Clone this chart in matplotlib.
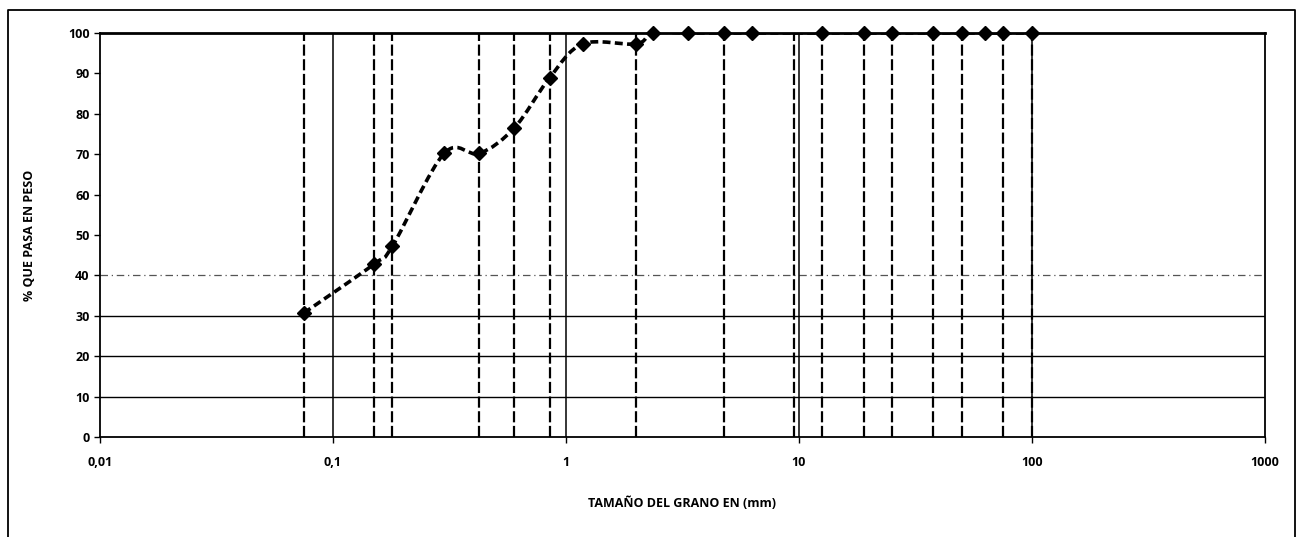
import numpy as np
import matplotlib
matplotlib.use("Agg")
import matplotlib.pyplot as plt
from matplotlib.path import Path
from matplotlib.patches import PathPatch
from matplotlib.ticker import FixedLocator, FixedFormatter, NullLocator

# Datos de la curva granulometrica (tamano en mm, % que pasa)
tamanos = [0.075, 0.15, 0.18, 0.3, 0.425, 0.6, 0.85, 1.18, 2.0, 2.36, 3.35,
           4.75, 6.3, 12.5, 19.0, 25.0, 37.5, 50.0, 63.0, 75.0, 100.0]
pasa = [30.7, 42.8, 47.3, 70.2, 70.2, 76.5, 88.9, 97.3, 97.3, 100.0, 100.0,
        100.0, 100.0, 100.0, 100.0, 100.0, 100.0, 100.0, 100.0, 100.0, 100.0]

# Tamices marcados con linea vertical discontinua
tamices = [0.075, 0.15, 0.18, 0.425, 0.6, 0.85, 2.0, 4.75, 9.5, 12.5,
           19.0, 25.0, 37.5, 50.0, 75.0, 100.0]

x_ticks = [0.01, 0.1, 1, 10, 100, 1000]
x_labels = ["0,01", "0,1", "1", "10", "100", "1000"]
y_ticks = list(range(0, 101, 10))

plt.rcParams['font.family'] = ['Open Sans', 'DejaVu Sans']

fig = plt.figure(figsize=(12.99, 5.37), dpi=100)
ax = fig.add_axes([100 / 1299, 1 - 437 / 537, 1165 / 1299, 404 / 537])
ax.set_xscale('log')
ax.set_xlim(0.01, 1000)
ax.set_ylim(0, 100)

# Lineas horizontales
for yv in [10, 20, 30]:
    ax.axhline(yv, color='black', lw=1.0, zorder=1)
ax.axhline(40, color='#555555', lw=0.9, ls=(0, (6, 3, 1, 3)), zorder=1)

# Lineas verticales por decada
for xv in [0.1, 1, 10, 100]:
    ax.axvline(xv, color='black', lw=1.1, zorder=1)

# Lineas de tamices
for t in tamices:
    ax.plot([t, t], [0, 100], color='black', lw=1.6,
            ls=(0, (5, 1.6)), zorder=2)

# Curva suavizada (Bezier tipo Catmull-Rom en espacio log x)
lx = np.log10(tamanos)
py = np.array(pasa)
pts = np.column_stack([lx, py])
verts = [pts[0]]
codes = [Path.MOVETO]
n = len(pts)
for i in range(n - 1):
    p0 = pts[i - 1] if i > 0 else pts[i]
    p1 = pts[i]
    p2 = pts[i + 1]
    p3 = pts[i + 2] if i + 2 < n else pts[i + 1]
    c1 = p1 + (p2 - p0) / 6.0
    c2 = p2 - (p3 - p1) / 6.0
    verts += [c1, c2, p2]
    codes += [Path.CURVE4] * 3
verts = np.array(verts)
verts[:, 0] = 10 ** verts[:, 0]
curva = PathPatch(Path(verts, codes), facecolor='none', edgecolor='black',
                  lw=2.6, ls=(0, (2.2, 1.2)), zorder=3)
ax.add_patch(curva)

ax.plot(tamanos, pasa, ls='none', marker='D', color='black',
        markersize=7.5, zorder=4, clip_on=False)

# Ejes y etiquetas
ax.xaxis.set_major_locator(FixedLocator(x_ticks))
ax.xaxis.set_major_formatter(FixedFormatter(x_labels))
ax.xaxis.set_minor_locator(NullLocator())
ax.set_yticks(y_ticks)
ax.tick_params(axis='both', labelsize=9, direction='out', length=4,
               width=1.0, colors='black')
ax.tick_params(axis='x', pad=10)
for lab in ax.get_xticklabels() + ax.get_yticklabels():
    lab.set_fontweight('bold')

for s in ['left', 'bottom', 'right']:
    ax.spines[s].set_linewidth(1.3)
ax.spines['top'].set_linewidth(2.0)

fig.text(682 / 1299, 1 - 503 / 537, 'TAMAÑO DEL GRANO EN (mm)', ha='center',
         va='center', fontsize=9, fontweight='bold')
fig.text(30 / 1299, 1 - 235 / 537, '% QUE PASA EN PESO', ha='center',
         va='center', rotation=90, fontsize=9, fontweight='bold')

# Marco exterior del grafico
x0, x1 = 8 / 1299, 1295 / 1299
ytop = 1 - 10 / 537
fig.add_artist(plt.Line2D([x0, x0, x1, x1], [0, ytop, ytop, 0],
                          color='black', lw=1.3, transform=fig.transFigure))

fig.savefig('out.png', dpi=100)
